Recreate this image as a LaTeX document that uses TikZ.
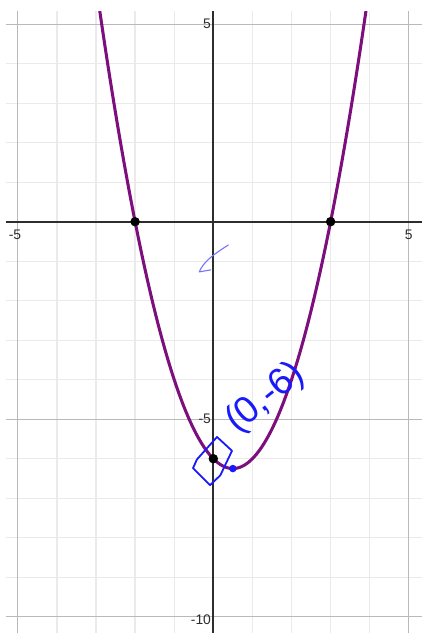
\documentclass[tikz,border=0pt]{standalone}
\usepackage{fontspec}
\setsansfont{Liberation Sans}
\usetikzlibrary{positioning}
\definecolor{curvepurple}{RGB}{125,15,125}
\definecolor{inkblue}{RGB}{25,25,250}
\definecolor{minorgrid}{RGB}{234,234,234}
\definecolor{majorgrid}{RGB}{185,185,185}
\definecolor{axisgray}{RGB}{45,45,45}

\begin{document}
\begin{tikzpicture}[x=0.99cm, y=1cm,
  minor/.style={draw=minorgrid, line width=1pt},
  major/.style={draw=majorgrid, line width=0.9pt},
  axis/.style={draw=axisgray, line width=1.3pt},
  ticklabel/.style={font=\sffamily\fontsize{10}{12}\selectfont, text=axisgray, inner sep=1.5pt},
  point/.style={circle, fill=black, inner sep=0pt, minimum size=2.4mm},
  ink/.style={draw=inkblue, line width=1.3pt, line cap=round, line join=round}]
  \useasboundingbox (-5.455,-10.413) rectangle (5.338,5.613);

  % grid
  \foreach \x in {-4,...,-1,1,2,3,4} \draw[minor] (\x,-10.413) -- (\x,5.33);
  \foreach \y in {-9,...,-6,-4,-3,-2,-1,1,2,3,4} \draw[minor] (-5.3,\y) -- (5.338,\y);
  \foreach \x in {-5,5} \draw[major] (\x,-10.413) -- (\x,5.33);
  \foreach \y in {-10,-5,5} \draw[major] (-5.3,\y) -- (5.338,\y);

  % axes
  \draw[axis] (-5.3,0) -- (5.338,0);
  \draw[axis] (0,-10.413) -- (0,5.33);

  \node[ticklabel, anchor=north, xshift=-2pt, yshift=-4pt] (xlabL) at (-5,0) {-5};
  \node[ticklabel, anchor=north, yshift=-4pt] (xlabR) at (5,0) {5};
  \node[ticklabel, anchor=east] (ylabT) at (0,5) {5};
  \node[ticklabel, anchor=east] (ylabM) at (0,-5) {-5};
  \node[ticklabel, anchor=east, yshift=-2pt] (ylabB) at (0,-10) {-10};

  % parabola
  \begin{scope}
    \clip (-5.3,-10.413) rectangle (5.338,5.33);
    \draw[curvepurple, line width=2.2pt] plot[domain=-3:4, samples=120] (\x,{\x*\x-\x-6});
  \end{scope}

  \node[point] (rootL) at (-2,0) {};
  \node[point] (rootR) at (3,0) {};
  \node[point] (yint) at (0,-6) {};
  \node[circle, fill=inkblue, inner sep=0pt, minimum size=1.9mm] (vertex) at (0.5,-6.25) {};

  % handwritten notes
  \draw[ink, line width=0.8pt, draw=inkblue!60] (0.384,-0.59) .. controls (0.05,-0.8) and (-0.25,-1.0) .. (-0.358,-1.27) -- (-0.066,-1.22);
  \draw[ink] (0.095,-5.45) -- (0.478,-5.80) -- (0.18,-6.42) -- (-0.084,-6.67) -- (-0.519,-6.24) -- (-0.42,-6.02) -- cycle;
  \node[rotate=39, text=inkblue, font=\sffamily\fontsize{27}{27}\selectfont] (note) at (1.34,-4.47) {(0,-6)};
\end{tikzpicture}
\end{document}
